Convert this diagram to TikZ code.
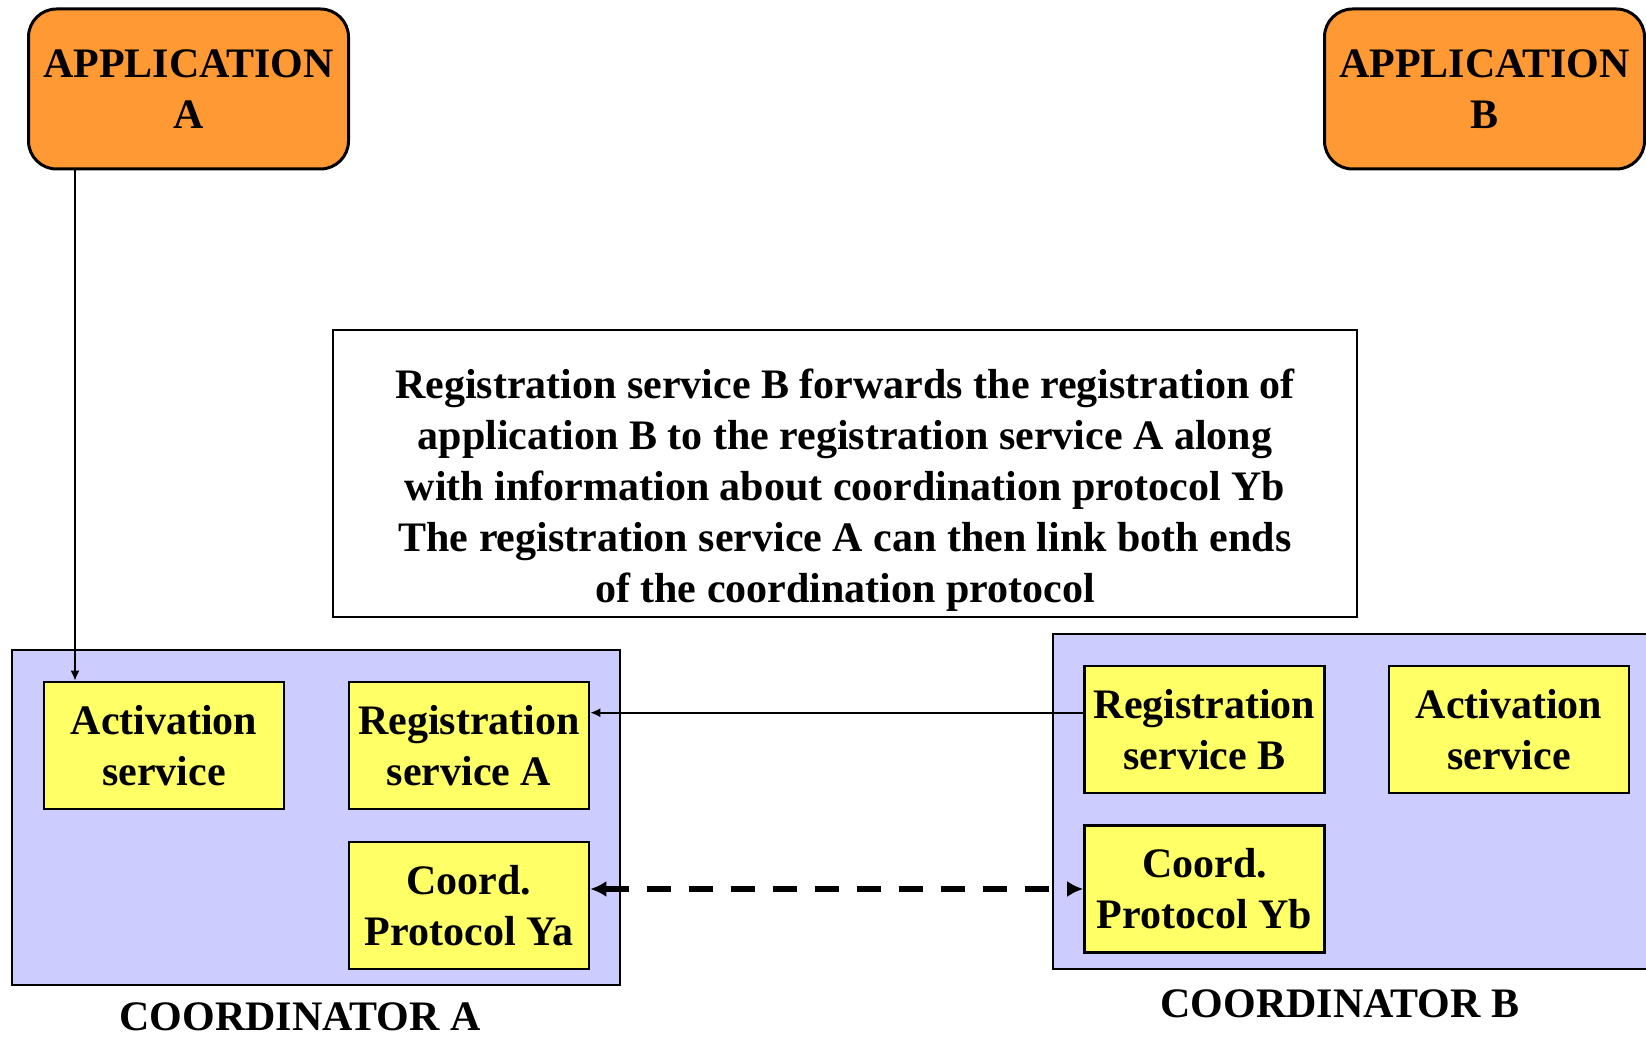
\documentclass[tikz,border=0pt]{standalone}
\usepackage{fontspec}
\setmainfont{Liberation Serif}
\usetikzlibrary{arrows.meta,calc}

\definecolor{apporange}{RGB}{255,153,51}
\definecolor{coordblue}{RGB}{204,204,255}
\definecolor{serviceyellow}{RGB}{255,255,102}

\tikzset{
  txt/.style={font=\fontsize{21}{25.5}\selectfont\bfseries, align=center, inner sep=0pt},
  appbox/.style={txt, draw, line width=1.5pt, rounded corners=14pt, fill=apporange,
    minimum width=160pt, minimum height=80pt},
  coordbox/.style={draw, line width=1.3pt, fill=coordblue,
    minimum width=304pt, minimum height=167.5pt},
  servicebox/.style={txt, draw, line width=1.3pt, fill=serviceyellow,
    minimum width=120pt, minimum height=63.5pt},
  notebox/.style={draw, line width=1pt, fill=white,
    minimum width=512pt, minimum height=143.5pt},
  thinarrow/.style={line width=0.9pt, -{Latex[length=5pt,width=4.5pt]}},
  dasharrow/.style={line width=2.6pt, dash pattern=on 12pt off 9pt,
    {Latex[length=8pt,width=8pt]}-{Latex[length=8pt,width=8pt]}}
}

\begin{document}
\begin{tikzpicture}[x=0.5pt,y=-0.5pt]
\useasboundingbox (0,0) rectangle (1646,1037);

% Applications
\node[appbox] (appA) at (188.5,89) {APPLICATION\\A};
\node[appbox] (appB) at (1484.5,89) {APPLICATION\\B};

% Explanation
\node[notebox] (note) at (845,473.5) {};
\node[txt] (notetext) at ($(note.center)+(0,17)$) {Registration service B forwards the registration of\\
application B to the registration service A along\\
with information about coordination protocol Yb\\
The registration service A can then link both ends\\
of the coordination protocol};

% Coordinator A
\node[coordbox] (coordA) at (316,817.5) {};
\node[servicebox] (actA) at (164,745.5) {Activation\\service};
\node[servicebox] (regA) at (469,745.5) {Registration\\service A};
\node[servicebox] (ya) at (469,905.5) {Coord.\\Protocol Ya};
\node[txt, anchor=base] (labA) at (300,1030) {COORDINATOR A};

% Coordinator B
\node[coordbox] (coordB) at (1357,801.5) {};
\node[servicebox] (regB) at (1204.5,729.5) {Registration\\service B};
\node[servicebox] (actB) at (1509,729.5) {Activation\\service};
\node[servicebox] (yb) at (1204.5,889) {Coord.\\Protocol Yb};
\node[txt, anchor=base] (labB) at (1340,1017) {COORDINATOR B};

% Links
\coordinate (downA) at ($(appA.south west)+(48,0)$);
\draw[thinarrow] (downA) -- (downA |- actA.north);
\coordinate (fwdB) at ($(regB.north west)+(0,48)$);
\draw[thinarrow] (fwdB) -- (fwdB -| regA.east);
\draw[dasharrow] (ya.east |- yb.west) -- (yb.west);

\end{tikzpicture}
\end{document}
